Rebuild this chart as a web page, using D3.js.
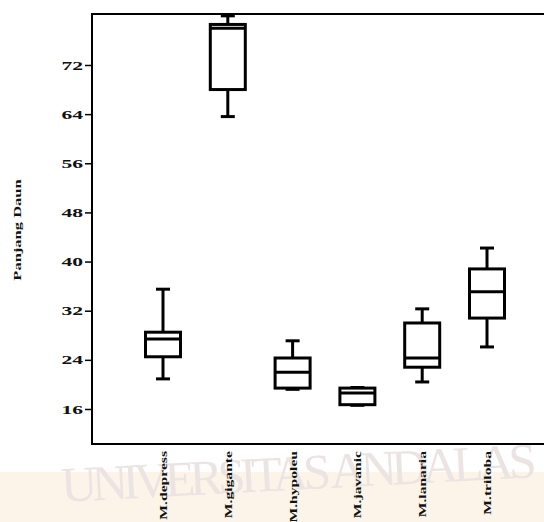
<!DOCTYPE html>
<html lang="en">
<head>
    <meta charset="UTF-8">
    <title>Panjang Daun boxplot</title>
    <script src="https://d3js.org/d3.v7.min.js"></script>
    <style>
        body { margin: 0; background: #fff; }
        svg { display: block; }
        text {
            font-family: "Liberation Serif", "DejaVu Serif", serif;
            font-weight: bold;
            fill: #111;
        }
        .box { fill: #fff; stroke: #000; stroke-width: 3; }
        .whisk { stroke: #000; stroke-width: 3; }
        .frame { stroke: #000; stroke-width: 2; fill: none; }
    </style>
</head>
<body>
<script>
    const width = 544;
    const height = 522;

    // data
    const species = ["M.depress", "M.gigante", "M.hypoleu", "M.javanic", "M.lanaria", "M.triloba"];
    const lowWhisker  = [20.9, 63.6, 19.2, 16.6, 20.4, 26.1];
    const q1          = [24.5, 68.0, 19.4, 16.7, 22.8, 30.8];
    const median      = [27.4, 78.0, 22.0, 18.6, 24.3, 35.1];
    const q3          = [28.5, 78.6, 24.3, 19.4, 30.0, 38.8];
    const highWhisker = [35.5, 80.0, 27.1, 19.5, 32.3, 42.2];
    const yTicks = [16, 24, 32, 40, 48, 56, 64, 72];

    const rows = species.map((s, i) => ({
        name: s, lo: lowWhisker[i], q1: q1[i], med: median[i], q3: q3[i], hi: highWhisker[i]
    }));

    const svg = d3.select("body").append("svg")
        .attr("width", width)
        .attr("height", height);

    // faint watermark behind the chart
    const wm = svg.append("g");
    wm.append("rect")
        .attr("x", 0).attr("y", 472).attr("width", width).attr("height", 50)
        .attr("fill", "#fcf4e8");
    wm.append("text")
        .attr("transform", "translate(62,502) rotate(-3)")
        .attr("textLength", 476)
        .style("font-size", "50px")
        .style("font-weight", "normal")
        .style("fill", "#ebe4e2")
        .text("UNIVERSITAS ANDALAS");

    const plotLeft = 92, plotTop = 14, plotBottom = 444;

    const y = d3.scaleLinear()
        .domain([10.3, 80.3])
        .range([plotBottom, plotTop]);

    const x = d3.scalePoint()
        .domain(species)
        .range([163, 487]);

    // frame (right side runs off the picture)
    svg.append("path")
        .attr("class", "frame")
        .attr("d", `M${width},${plotTop}H${plotLeft}V${plotBottom}H${width}`);

    // y axis
    const yAxis = svg.append("g")
        .attr("transform", `translate(${plotLeft},0)`)
        .call(d3.axisLeft(y).tickValues(yTicks).tickSize(7).tickFormat(d3.format("d")));
    yAxis.select(".domain").remove();
    yAxis.selectAll(".tick line").attr("stroke-width", 1.5);
    yAxis.selectAll(".tick text")
        .attr("x", null)
        .attr("dy", null)
        .attr("text-anchor", "end")
        .attr("dominant-baseline", "central")
        .attr("transform", "translate(-9,0) scale(1.8,1)")
        .style("font-size", "12px")
        .style("font-family", "'Liberation Serif', serif");

    svg.append("text")
        .attr("transform", "translate(21,230) rotate(-90) scale(1.5,1)")
        .attr("text-anchor", "middle")
        .style("font-size", "11px")
        .text("Panjang Daun");

    // x labels, rotated
    svg.selectAll(".xlab")
        .data(species)
        .enter()
        .append("text")
        .attr("class", "xlab")
        .attr("transform", d => `translate(${x(d) + 4},451) rotate(-90) scale(1.42,1)`)
        .attr("text-anchor", "end")
        .style("font-size", "11px")
        .text(d => d);

    // boxes
    const boxW = 35, capW = 14;
    const g = svg.selectAll("g.bp")
        .data(rows)
        .enter()
        .append("g")
        .attr("class", "bp");

    g.append("line").attr("class", "whisk")
        .attr("x1", d => x(d.name)).attr("x2", d => x(d.name))
        .attr("y1", d => y(d.hi)).attr("y2", d => y(d.q3));
    g.append("line").attr("class", "whisk")
        .attr("x1", d => x(d.name)).attr("x2", d => x(d.name))
        .attr("y1", d => y(d.q1)).attr("y2", d => y(d.lo));
    g.append("line").attr("class", "whisk")
        .attr("x1", d => x(d.name) - capW / 2).attr("x2", d => x(d.name) + capW / 2)
        .attr("y1", d => y(d.hi)).attr("y2", d => y(d.hi));
    g.append("line").attr("class", "whisk")
        .attr("x1", d => x(d.name) - capW / 2).attr("x2", d => x(d.name) + capW / 2)
        .attr("y1", d => y(d.lo)).attr("y2", d => y(d.lo));

    g.append("rect").attr("class", "box")
        .attr("x", d => x(d.name) - boxW / 2)
        .attr("width", boxW)
        .attr("y", d => y(d.q3))
        .attr("height", d => y(d.q1) - y(d.q3));

    g.append("line").attr("class", "whisk")
        .attr("x1", d => x(d.name) - boxW / 2).attr("x2", d => x(d.name) + boxW / 2)
        .attr("y1", d => y(d.med)).attr("y2", d => y(d.med));
</script>
</body>
</html>
